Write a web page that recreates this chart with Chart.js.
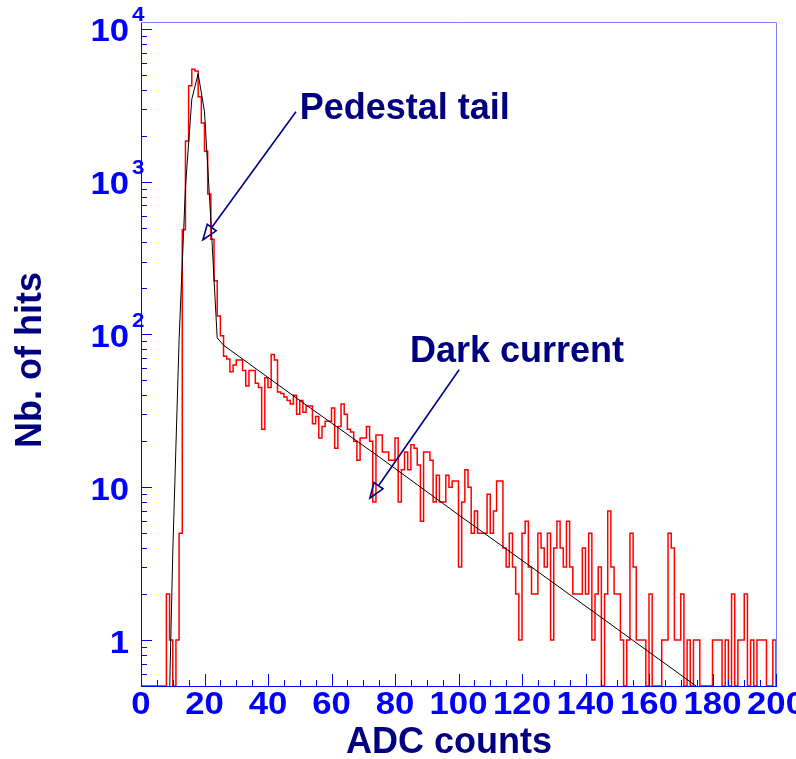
<!DOCTYPE html>
<html>
<head>
<meta charset="utf-8">
<title>ADC counts</title>
<script src="https://cdn.jsdelivr.net/npm/chart.js@4.4.1/dist/chart.umd.min.js"></script>
<style>
    html, body { margin: 0; padding: 0; background: #ffffff; }
    canvas { display: block; }
</style>
</head>
<body>
<canvas id="adcChart" width="796" height="759"></canvas>
<script>
// Histogram: hits per ADC bin, bin k covers [k, k+1)
const binEdgeStart = 0;
const binWidth = 1;
const binCounts = [
    0, 0, 0, 0, 0, 0, 0, 0, 2, 1,            // 0-9
    0, 1, 5, 484, 1850, 4250, 5450, 5300, 3600, 2420,   // 10-19
    1580, 830, 420, 225, 132, 98, 72, 69, 57, 63,       // 20-29
    68, 68, 58, 46, 58, 58, 48, 45, 24, 52,             // 30-39
    45, 74, 68, 42, 41, 39, 37, 35, 40, 30,             // 40-49
    37, 31, 34, 34, 26, 29, 21, 25, 27, 27,             // 50-59
    33, 18, 25, 35, 30, 24, 23, 20, 15, 21,             // 60-69
    21, 25, 20, 8, 22, 22, 17, 17, 15, 15,              // 70-79
    21, 8, 13, 17, 13, 19, 18, 14, 6, 17,               // 80-89
    17, 15, 8, 12, 8, 8, 12, 10, 11, 11,                // 90-99
    3, 8, 13, 10, 5, 7, 5, 5, 5, 9,                     // 100-109
    5, 7, 11, 11, 4, 3, 5, 3, 2, 1,                     // 110-119
    5, 6, 3, 2, 2, 5, 4, 3, 5, 1,                       // 120-129
    4, 6, 4, 3, 6, 3, 2, 2, 2, 4,                       // 130-139
    2, 5, 1, 2, 3, 0, 2, 7, 3, 2,                       // 140-149
    2, 1, 0, 1, 5, 3, 1, 1, 1, 0,                       // 150-159
    2, 0, 0, 0, 1, 1, 5, 4, 1, 1,                       // 160-169
    2, 0, 1, 0, 1, 1, 0, 0, 0, 0,                       // 170-179
    1, 1, 1, 0, 1, 0, 2, 0, 1, 1,                       // 180-189
    2, 0, 1, 0, 1, 1, 1, 0, 0, 1                        // 190-199
];

// Fit curve (gaussian pedestal + exponential dark current)
const fitX = [8, 10, 12, 14, 16, 18, 20, 22, 24, 26, 50, 75, 100, 125, 150, 176, 180];
const fitY = [0.055, 3.7, 93, 915, 3470, 5080, 2870, 560, 95, 85, 37, 15.8, 6.6, 2.8, 1.18, 0.48, 0.41];

// Axes
const xTickLabels = [0, 20, 40, 60, 80, 100, 120, 140, 160, 180, 200];
const yTickValues = [1, 10, 100, 1000, 10000];
const yTickLabels = [['1', ''], ['10', ''], ['10', '2'], ['10', '3'], ['10', '4']];
const xTitle = 'ADC counts';
const yTitle = 'Nb. of hits';

// Annotations (positions in data units)
const notes = [
    { text: 'Pedestal tail', at: [50, 3000], from: [48.8, 2870], to: [19.5, 417] },
    { text: 'Dark current', at: [84.7, 77], from: [100.2, 58.7], to: [72.1, 8.5] }
];

const X_MIN = 0, X_MAX = 200;
const Y_MIN = 0.5, Y_MAX = 11100;

const NAVY = '#000080';
const BLUE = '#0000ff';
const FONT = '"Liberation Sans", Arial, Helvetica, sans-serif';
const LABEL_STRETCH = 1.12; // tick labels are a bit wider than plain Helvetica

// histogram outline, zero bins sit on the bottom of the frame
const histPoints = binCounts.map((c, i) => ({ x: binEdgeStart + i * binWidth, y: c > 0 ? c : Y_MIN }));
histPoints.push({ x: binEdgeStart + binCounts.length * binWidth, y: Y_MIN });

const fitPoints = fitX.map((x, i) => ({ x, y: fitY[i] }));

function drawArrow(ctx, x1, y1, x2, y2) {
    const ang = Math.atan2(y2 - y1, x2 - x1);
    const len = 15, half = 5.5;
    const bx = x2 - len * Math.cos(ang), by = y2 - len * Math.sin(ang);
    ctx.beginPath();
    ctx.moveTo(x1, y1);
    ctx.lineTo(bx, by);
    ctx.stroke();
    ctx.beginPath();
    ctx.moveTo(x2, y2);
    ctx.lineTo(bx + half * Math.sin(ang), by - half * Math.cos(ang));
    ctx.lineTo(bx - half * Math.sin(ang), by + half * Math.cos(ang));
    ctx.closePath();
    ctx.stroke();
}

function stretchedText(ctx, text, x, y) {
    ctx.save();
    ctx.translate(x, y);
    ctx.scale(LABEL_STRETCH, 1);
    ctx.fillText(text, 0, 0);
    ctx.restore();
}

// ROOT style frame: inward ticks, blue labels, titles, arrows
const rootFrame = {
    id: 'rootFrame',
    afterDraw(chart) {
        const { ctx, chartArea: a, scales } = chart;
        const xs = scales.x, ys = scales.y;
        ctx.save();

        // top and right sides of the frame
        ctx.strokeStyle = '#8080ff';
        ctx.lineWidth = 1;
        ctx.beginPath();
        ctx.moveTo(a.left, a.top + 0.5);
        ctx.lineTo(a.right + 0.5, a.top + 0.5);
        ctx.lineTo(a.right + 0.5, a.bottom);
        ctx.stroke();

        // x ticks every 5, long every 20
        ctx.strokeStyle = BLUE;
        ctx.beginPath();
        for (let v = X_MIN; v <= X_MAX; v += 5) {
            const px = Math.round(xs.getPixelForValue(v)) + 0.5;
            const len = v % 20 === 0 ? 12 : 6;
            ctx.moveTo(px, a.bottom);
            ctx.lineTo(px, a.bottom - len);
        }
        // y ticks at 1..9 x decade
        for (let d = 0.1; d <= Y_MAX; d *= 10) {
            for (let m = 1; m <= 9; m++) {
                const v = m * d;
                if (v < Y_MIN || v > Y_MAX) continue;
                const py = Math.round(ys.getPixelForValue(v)) + 0.5;
                const len = m === 1 ? 11 : 6;
                ctx.moveTo(a.left, py);
                ctx.lineTo(a.left + len, py);
            }
        }
        ctx.stroke();

        // tick labels
        ctx.fillStyle = BLUE;
        ctx.font = 'bold 31px ' + FONT;
        ctx.textAlign = 'center';
        ctx.textBaseline = 'top';
        xTickLabels.forEach(v => {
            stretchedText(ctx, String(v), xs.getPixelForValue(v), a.bottom + 4);
        });
        yTickValues.forEach((v, i) => {
            const py = ys.getPixelForValue(v);
            const [base, sup] = yTickLabels[i];
            ctx.font = 'bold 31px ' + FONT;
            ctx.textAlign = 'right';
            ctx.textBaseline = 'middle';
            stretchedText(ctx, base, a.left - 12, py + 4);
            if (sup) {
                ctx.font = 'bold 20px ' + FONT;
                ctx.textAlign = 'left';
                stretchedText(ctx, sup, a.left - 9, py - 13);
            }
        });

        // axis titles
        ctx.fillStyle = NAVY;
        ctx.font = 'bold 36px ' + FONT;
        ctx.textAlign = 'center';
        ctx.textBaseline = 'middle';
        ctx.fillText(xTitle, 449, 743);
        ctx.save();
        ctx.translate(31, 360);
        ctx.rotate(-Math.PI / 2);
        ctx.fillText(yTitle, 0, 0);
        ctx.restore();

        // annotations
        ctx.strokeStyle = NAVY;
        ctx.lineWidth = 1.6;
        ctx.textAlign = 'left';
        notes.forEach(n => {
            ctx.fillText(n.text, xs.getPixelForValue(n.at[0]), ys.getPixelForValue(n.at[1]));
            drawArrow(ctx,
                xs.getPixelForValue(n.from[0]), ys.getPixelForValue(n.from[1]),
                xs.getPixelForValue(n.to[0]), ys.getPixelForValue(n.to[1]));
        });

        ctx.restore();
    }
};

new Chart(document.getElementById('adcChart'), {
    type: 'line',
    data: {
        datasets: [
            {
                label: 'fit',
                data: fitPoints,
                borderColor: '#000000',
                borderWidth: 1,
                pointRadius: 0,
                tension: 0,
                fill: false
            },
            {
                label: 'hits',
                data: histPoints,
                borderColor: '#ff0000',
                borderWidth: 1.5,
                pointRadius: 0,
                stepped: true,
                fill: false
            }
        ]
    },
    options: {
        responsive: false,
        devicePixelRatio: 1,
        animation: false,
        events: [],
        layout: { padding: { left: 141, right: 20, top: 22, bottom: 73 } },
        plugins: {
            legend: { display: false },
            tooltip: { enabled: false }
        },
        scales: {
            x: {
                type: 'linear',
                min: X_MIN,
                max: X_MAX,
                grid: { display: false, drawTicks: false },
                border: { display: true, color: BLUE, width: 1 },
                ticks: { display: false }
            },
            y: {
                type: 'logarithmic',
                min: Y_MIN,
                max: Y_MAX,
                grid: { display: false, drawTicks: false },
                border: { display: true, color: BLUE, width: 1 },
                ticks: { display: false }
            }
        }
    },
    plugins: [rootFrame]
});
</script>
</body>
</html>
